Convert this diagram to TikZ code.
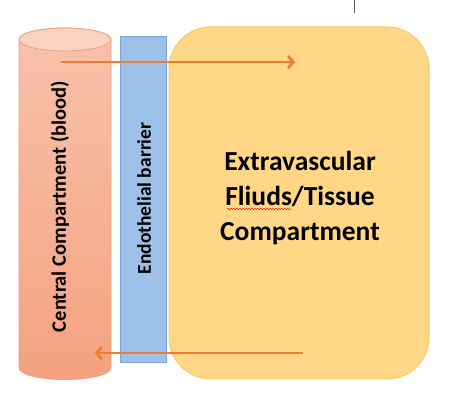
\documentclass[tikz,border=0pt]{standalone}
\usepackage{fontspec}
\setmainfont{Carlito}
\usetikzlibrary{decorations.pathmorphing, arrows.meta}

\definecolor{bloodEdge}{HTML}{E9A084}
\definecolor{bloodTop}{HTML}{F9D2C2}
\definecolor{bloodLight}{HTML}{F8C2AC}
\definecolor{bloodDark}{HTML}{F4A27F}
\definecolor{barrierFill}{HTML}{9DC1E8}
\definecolor{barrierEdge}{HTML}{7AA3D6}
\definecolor{tissueFill}{HTML}{FFD787}
\definecolor{tissueEdge}{HTML}{F6CD5A}
\definecolor{flowArrow}{HTML}{ED7D31}

\tikzset{
    barrier/.style={draw=barrierEdge, fill=barrierFill, line width=0.8pt},
    tissue/.style={draw=tissueEdge, fill=tissueFill, line width=1pt, rounded corners=42pt},
    flow/.style={-{Straight Barb[length=5pt, width=12pt]}, draw=flowArrow, line width=2.8pt},
}

\begin{document}
\begin{tikzpicture}[x=1pt, y=1pt]
    \useasboundingbox (0,0) rectangle (474,407);

    % Extravascular compartment
    \node[tissue, minimum width=260pt, minimum height=352pt] (tissue) at (299,204) {};
    \node[align=center, font=\fontsize{27.5}{35}\selectfont\bfseries] (tissueText)
        at (300,209) {Extravascular\\Fliuds/Tissue\\Compartment};
    \draw[red, thin, decorate, decoration={snake, amplitude=0.9pt, segment length=3pt}]
        (227,198) -- (291,198);

    % Endothelial barrier
    \node[barrier, minimum width=46pt, minimum height=326pt] (barrier) at (143,208) {};
    \node[rotate=90, font=\fontsize{19.5}{21}\selectfont\bfseries] (barrierText)
        at (144,208.5) {Endothelial barrier};

    % Central compartment (cylinder)
    \def\cylL{19}
    \def\cylR{111}
    \def\cylTop{367.5}
    \def\cylBot{39}
    \shade[top color=bloodLight, bottom color=bloodDark, draw=bloodEdge, line width=0.8pt]
        (\cylL,\cylTop) -- (\cylL,\cylBot) arc (180:360:46 and 11.5)
        -- (\cylR,\cylTop) arc (0:180:46 and 11.5) -- cycle;
    \draw[fill=bloodTop, draw=bloodEdge, line width=0.8pt] (65,\cylTop) ellipse (46 and 11.5);
    \node[rotate=90, font=\fontsize{20.5}{22}\selectfont\bfseries] (blood) at (60,200.5)
        {Central Compartment (blood)};

    % Exchange arrows
    \coordinate (outStart) at (61,345);
    \coordinate (outEnd) at (295,345);
    \coordinate (backStart) at (303,54);
    \coordinate (backEnd) at (95,54);
    \draw[flow] (outStart) -- (outEnd);
    \draw[flow] (backStart) -- (backEnd);

    % cursor mark
    \coordinate (markTop) at (354,407);
    \coordinate (markBot) at (354,394);
    \draw[gray!70!black, line width=0.8pt] (markTop) -- (markBot);
\end{tikzpicture}
\end{document}
